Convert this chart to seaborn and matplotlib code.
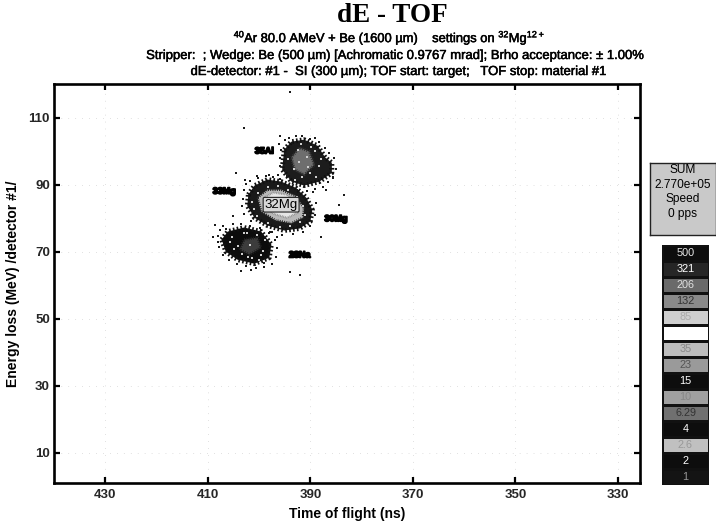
import numpy as np
import matplotlib
matplotlib.use("Agg")
import matplotlib.pyplot as plt
import matplotlib.patheffects as pe
from matplotlib.colors import ListedColormap
import seaborn as sns

sns.set_theme(style="white")
plt.rcParams['font.family'] = ['Liberation Sans', 'DejaVu Sans']
plt.rcParams['mathtext.fontset'] = 'custom'
plt.rcParams['mathtext.rm'] = 'Liberation Sans'
plt.rcParams['mathtext.default'] = 'regular'

# Contours: time of flight (ns), energy loss
mid_outer_x = [402.1, 400.9, 398.4, 395.7, 392.9, 390.8, 389.6, 390.0, 392.1, 395.1, 398.4, 400.9, 402.3]
mid_outer_y = [87.0, 89.7, 91.5, 90.9, 89.1, 86.1, 82.5, 79.0, 76.9, 76.3, 77.8, 80.1, 83.7]
mid_ring_x = [400.3, 398.4, 395.7, 392.9, 391.2, 391.4, 393.7, 396.8, 399.6]
mid_ring_y = [86.1, 88.5, 88.5, 86.7, 83.1, 80.1, 78.4, 79.3, 81.9]
mid_core_x = [399.0, 397.2, 394.5, 392.5, 392.5, 394.5, 397.2, 399.0]
mid_core_y = [86.1, 87.6, 87.0, 84.0, 81.6, 80.1, 81.3, 83.7]
top_outer_x = [395.1, 393.7, 391.2, 388.6, 387.1, 385.8, 385.8, 388.2, 391.2, 393.7, 395.5]
top_outer_y = [100.4, 102.8, 103.4, 101.6, 98.1, 96.5, 93.5, 90.9, 89.7, 90.9, 94.5]
top_inner_x = [393.7, 392.1, 390.2, 389.2, 391.2, 393.1]
top_inner_y = [98.1, 101.0, 99.9, 95.9, 92.9, 94.5]
low_outer_x = [407.3, 406.1, 402.9, 399.6, 397.6, 398.0, 400.9, 404.2, 406.5]
low_outer_y = [73.6, 76.0, 77.2, 76.0, 72.1, 68.2, 66.4, 67.6, 70.0]
low_inner_x = [402.9, 400.3, 399.6, 401.9, 403.8]
low_inner_y = [73.6, 74.2, 71.2, 69.1, 70.6]

# Stray counts
stray_x = [394.0, 403.0, 404.5, 400.5, 387.0, 384.5, 392.0, 388.0, 396.0,
           408.5, 408.0, 405.0, 398.0, 394.5, 396.5, 401.5, 403.5, 385.5, 386.5, 408.9, 399.0,
           397.5, 383.5, 394.0, 389.0, 402.8,
           396.4, 396.0, 395.9, 395.7, 396.2, 394.9, 394.2, 392.8, 391.6, 390.0, 388.4, 387.2,
           386.3, 385.3, 385.0, 385.6, 386.6, 387.6, 389.1, 390.6, 392.6, 394.6, 395.8,
           403.0, 402.6, 401.8, 400.2, 398.7, 397.2, 396.0, 389.4, 388.9, 389.0, 390.0,
           391.4, 393.3, 395.5, 397.8, 399.8, 401.6, 403.0, 403.4, 403.2,
           408.0, 407.6, 407.1, 406.4, 405.1, 403.5, 401.8, 399.8, 398.1, 396.9, 396.5,
           396.7, 397.4, 399.0, 400.6, 402.5, 404.4, 405.9, 407.1, 407.9]
stray_y = [117.5, 107.0, 93.5, 92.5, 88.5, 84.0, 63.0, 74.5, 104.5,
           78.0, 73.0, 80.5, 93.0, 92.7, 74.5, 64.5, 64.3, 92.0, 79.5, 74.5, 66.5,
           75.8, 87.0, 64.0, 104.0, 91.5,
           92.8, 95.5, 98.0, 100.2, 102.0, 103.2, 104.0, 104.6, 104.5, 103.7, 102.8, 101.0,
           99.3, 98.0, 94.6, 92.3, 90.7, 89.4, 88.7, 88.2, 88.4, 89.2, 90.6,
           88.4, 90.2, 91.0, 92.0, 92.7, 92.3, 91.7, 87.8, 84.5, 81.0, 77.6,
           75.9, 75.2, 75.0, 76.0, 77.2, 79.2, 81.2, 83.5, 85.8,
           74.6, 76.4, 77.6, 76.9, 78.1, 78.2, 77.7, 77.2, 75.5, 73.5, 71.0,
           68.5, 66.3, 65.4, 65.0, 65.6, 66.4, 67.6, 69.0, 71.5]

# Lighter counts inside the dark blobs
fleck_x = [394.3, 393.2, 392.5, 391.6, 390.7, 390.0, 389.1, 388.4, 387.9, 393.0, 391.9, 390.4, 388.8, 392.2, 389.8,
           405.2, 404.2, 403.4, 402.4, 401.3, 400.4, 399.2, 398.9, 404.8, 403.0, 401.7, 400.0, 402.2, 405.6, 399.6,
           401.3, 400.2, 398.3, 396.4, 394.4, 392.6, 391.4, 391.1, 392.0, 394.0, 396.0, 398.2, 400.4, 401.0]
fleck_y = [97.5, 94.6, 100.4, 92.3, 98.3, 93.6, 100.0, 95.6, 97.7, 91.5, 102.2, 95.2, 92.4, 96.6, 101.3,
           74.5, 71.8, 69.2, 75.6, 68.0, 75.0, 70.2, 73.5, 70.9, 75.5, 72.0, 67.4, 68.4, 72.8, 68.9,
           84.9, 87.6, 89.4, 89.6, 88.4, 86.2, 83.6, 80.8, 78.9, 77.6, 77.4, 78.6, 80.7, 82.6]

label_names = ["35Al", "33Mg", "30Mg", "28Na"]
label_x = [399.0, 406.8, 385.0, 392.1]
label_y = [100.0, 88.0, 79.8, 69.0]

x_ticks = [430, 410, 390, 370, 350, 330]
y_ticks = [10, 30, 50, 70, 90, 110]

level_labels = ["500", "321", "206", "132", "85", "", "35", "23", "15", "10", "6.29", "4", "2.6", "2", "1"]
level_grays = ["#0d0d0d", "#262626", "#6a6a6a", "#8a8a8a", "#cfcfcf", "#ffffff", "#bdbdbd", "#9a9a9a",
               "#0d0d0d", "#a0a0a0", "#707070", "#0d0d0d", "#c0c0c0", "#0d0d0d", "#141414"]
level_text = ["#e8e8e8", "#ffffff", "#e0e0e0", "#333333", "#aaaaaa", "#000000", "#888888", "#555555",
              "#ffffff", "#888888", "#333333", "#ffffff", "#999999", "#ffffff", "#999999"]

W, H = 716, 524
fig = plt.figure(figsize=(W / 100, H / 100), dpi=100, facecolor="white")


def rect(x0, y0, x1, y1):
    return [x0 / W, 1 - y1 / H, (x1 - x0) / W, (y1 - y0) / H]


ax = fig.add_axes(rect(54, 84, 640, 483))
ax.set_xlim(440, 325.7)
ax.set_ylim(1, 120)


def closed(v):
    return list(v) + [v[0]]


def blob(xs, ys, fill, edge=None, lw=3.0, z=2):
    ax.fill(xs, ys, color=fill, lw=0, zorder=z)
    if edge is not None:
        sns.lineplot(x=closed(xs), y=closed(ys), sort=False, estimator=None, ax=ax, color=edge,
                     lw=lw, ls=(0, (0.35, 0.45)), zorder=z + 0.1)


blob(top_outer_x, top_outer_y, "#1c1c1c", "#111111", 3.5, 2)
blob(top_inner_x, top_inner_y, "#6e6e6e", "#333333", 2.0, 3)
blob(low_outer_x, low_outer_y, "#0c0c0c", "#111111", 3.5, 2)
blob(low_inner_x, low_inner_y, "#3c3c3c", "#222222", 2.0, 3)
blob(mid_outer_x, mid_outer_y, "#1a1a1a", "#111111", 3.5, 4)
blob(mid_ring_x, mid_ring_y, "#b8b8b8", "#222222", 2.0, 5)
blob(mid_core_x, mid_core_y, "#e6e6e6", "#8a8a8a", 1.5, 6)

sns.scatterplot(x=stray_x, y=stray_y, ax=ax, color="#1a1a1a", s=3.5, marker="s", linewidth=0, zorder=3)
sns.scatterplot(x=fleck_x, y=fleck_y, ax=ax, color="#cfcfcf", s=3.0, marker="s", linewidth=0, zorder=6.5)

ax.text(395.7, 84.0, "32Mg", fontsize=9.5, ha="center", va="center", color="black", zorder=8,
        bbox=dict(boxstyle="round,pad=0.1", fc="#d8d8d8", ec="#222222", lw=0.8))
for name, lx, ly in zip(label_names, label_x, label_y):
    ax.text(lx, ly, name, fontsize=6.5, fontweight="bold", ha="center", va="center", color="black", zorder=8,
            path_effects=[pe.withStroke(linewidth=1.2, foreground="black")])

ax.set_xticks(x_ticks)
ax.set_yticks(y_ticks)
ax.grid(True, color="#c4c4c4", lw=0.5, ls=(0, (1, 9)))
ax.set_axisbelow(True)
ax.tick_params(direction="in", length=4, width=1.6, color="black", labelsize=9.5,
               top=True, right=True, bottom=True, left=True)
ax.tick_params(axis="x", pad=4.5)
ax.tick_params(axis="y", pad=3)
for t in ax.get_xticklabels() + ax.get_yticklabels():
    t.set_fontweight("bold")
for s in ax.spines.values():
    s.set_visible(True)
    s.set_linewidth(1.9)
    s.set_color("black")
ax.set_xlabel("Time of flight (ns)", fontsize=10, fontweight="bold", labelpad=4, color="black")
ax.set_ylabel("Energy loss (MeV) /detector #1/", fontsize=10, fontweight="bold", labelpad=6, color="black")

thick = [pe.withStroke(linewidth=0.35, foreground="black")]
fig.text(392 / W, 1 - 15 / H, "dE - TOF", family="Liberation Serif", fontweight="bold", fontsize=19.5,
         ha="center", va="center", color="black")
fig.text(389 / W, 1 - 38 / H, r"$^{40}$Ar 80.0 AMeV + Be (1600 µm)    settings on $^{32}$Mg$^{12+}$",
         fontsize=9.3, ha="center", va="center", color="black", path_effects=thick)
fig.text(394 / W, 1 - 56 / H, "Stripper:  ; Wedge: Be (500 µm) [Achromatic 0.9767 mrad]; Brho acceptance: ± 1.00%",
         fontsize=9.4, ha="center", va="center", color="black", path_effects=thick)
fig.text(398 / W, 1 - 72 / H, "dE-detector: #1 -  SI (300 µm); TOF start: target;   TOF stop: material #1",
         fontsize=9.4, ha="center", va="center", color="black", path_effects=thick)

# SUM box
box = fig.add_axes(rect(650, 163, 715.5, 235))
box.set_facecolor("#c9c9c9")
box.set_xticks([])
box.set_yticks([])
for s in box.spines.values():
    s.set_visible(True)
    s.set_linewidth(1.0)
    s.set_color("#222222")
for yy, txt in zip([170, 185, 199, 214], ["SUM", "2.770e+05", "Speed", "0 pps"]):
    box.text(0.5, (235 - yy) / 72, txt, fontsize=8.6, ha="center", va="center", color="black",
             transform=box.transAxes)

# Level scale
lax = fig.add_axes(rect(662, 245, 709, 485))
codes = np.arange(len(level_labels)).reshape(-1, 1)
sns.heatmap(codes, ax=lax, cmap=ListedColormap(level_grays), cbar=False, annot=False,
            linewidths=0.8, linecolor="#111111", xticklabels=False, yticklabels=False)
for i, (lab, col) in enumerate(zip(level_labels, level_text)):
    lax.text(0.5, i + 0.5, lab, fontsize=7.8, ha="center", va="center", color=col)

fig.savefig("out.png", dpi=100, facecolor="white")
